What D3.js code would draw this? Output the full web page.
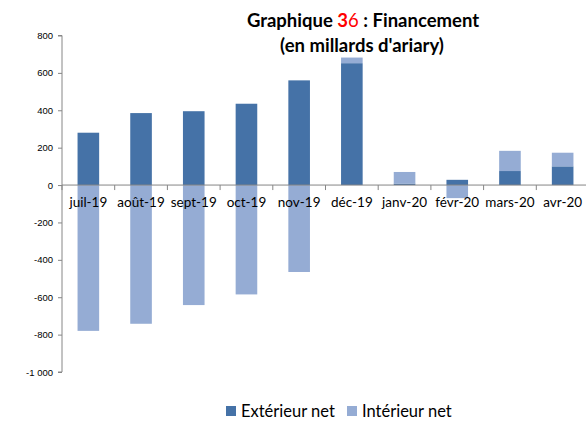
<!DOCTYPE html>
<html>
<head>
<meta charset="utf-8">
<script src="https://cdn.jsdelivr.net/npm/d3@7"></script>
<style>
  body { margin: 0; background: #fff; }
  svg { display: block; }
</style>
</head>
<body>
<div id="chart"></div>
<script>
// Financing by month, in billions of ariary
const months = ["juil-19","août-19","sept-19","oct-19","nov-19","déc-19","janv-20","févr-20","mars-20","avr-20"];
const exterieurNet = [280, 385, 395, 435, 560, 652, 8, 28, 75, 100];
const interieurNet = [-780, -742, -642, -585, -465, 30, 62, -70, 108, 73];
const yTicks = [800, 600, 400, 200, 0, -200, -400, -600, -800, -1000];
const seriesNames = ["Extérieur net", "Intérieur net"];
const colors = ["#4572a7", "#95acd4"];

const W = 586, H = 421;
const svg = d3.select("#chart").append("svg").attr("width", W).attr("height", H);

const x = d3.scaleBand().domain(months).range([62, 589]).paddingInner(0.59).paddingOuter(0.295);
const y = d3.scaleLinear().domain([-1000, 800]).range([372, 35.5]);

// stack: positives from 0 upward, negatives from 0 downward
const rows = months.map((m, i) => {
  const vals = [exterieurNet[i], interieurNet[i]];
  let pos = 0, neg = 0;
  return vals.map((v, k) => {
    let y0, y1;
    if (v >= 0) { y0 = pos; y1 = pos + v; pos = y1; }
    else { y0 = neg; y1 = neg + v; neg = y1; }
    return { m, k, y0, y1 };
  });
});

const fmt = v => v <= -1000 ? "-1 000" : String(v);

// y axis
const yAxis = d3.axisLeft(y).tickValues(yTicks).tickSize(4).tickFormat(fmt);
const gy = svg.append("g").attr("transform", "translate(62,0)").call(yAxis);
gy.select(".domain").attr("stroke", "#868686").attr("d", `M-4,${y(800)}H0V${y(-1000)}H-4`);
gy.selectAll(".tick line").attr("stroke", "#868686");
gy.selectAll(".tick text").attr("font-family", "Liberation Sans, Arial, sans-serif")
  .attr("font-size", 9.5).attr("fill", "#000").attr("x", -9);

// bars
svg.append("g").selectAll("g").data(rows).join("g")
  .selectAll("rect").data(d => d).join("rect")
  .attr("x", d => x(d.m))
  .attr("width", x.bandwidth())
  .attr("y", d => y(Math.max(d.y0, d.y1)))
  .attr("height", d => Math.abs(y(d.y0) - y(d.y1)))
  .attr("fill", d => colors[d.k]);

// category axis on the zero line
const xAxis = d3.axisBottom(x).tickSize(0).tickPadding(14);
const gx = svg.append("g").attr("transform", `translate(0,${y(0)})`).call(xAxis);
gx.select(".domain").attr("stroke", "#868686").attr("d", `M62,0H589`);
gx.selectAll(".tick text").attr("font-family", "Lato, Open Sans, sans-serif")
  .attr("font-size", 13.5).attr("fill", "#000").attr("dy", "0.6em");
// boundary ticks between categories
const step = x.step();
gx.selectAll("line.sep").data(d3.range(0, months.length + 1)).join("line")
  .attr("class", "sep")
  .attr("x1", i => 62 + i * step).attr("x2", i => 62 + i * step)
  .attr("y1", 0).attr("y2", 5).attr("stroke", "#868686");

// title
const title = svg.append("text").attr("x", 363).attr("y", 27)
  .attr("text-anchor", "middle").attr("font-family", "Lato, Open Sans, sans-serif")
  .attr("font-size", 18.5).attr("font-weight", "bold").attr("fill", "#000");
title.append("tspan").text("Graphique ");
title.append("tspan").attr("fill", "#ff0000").text("3");
title.append("tspan").attr("fill", "#ff0000").attr("font-weight", "normal").text("6");
title.append("tspan").text(" : Financement");
svg.append("text").attr("x", 362).attr("y", 52)
  .attr("text-anchor", "middle").attr("font-family", "Lato, Open Sans, sans-serif")
  .attr("font-size", 18.5).attr("font-weight", "bold").attr("fill", "#000")
  .text("(en millards d'ariary)");

// legend
const legendX = [226, 347];
const lg = svg.append("g").selectAll("g").data(seriesNames).join("g")
  .attr("transform", (d, i) => `translate(${legendX[i]},406)`);
lg.append("rect").attr("width", 10).attr("height", 10).attr("fill", (d, i) => colors[i]);
lg.append("text").attr("x", 15).attr("y", 10.5)
  .attr("font-family", "Lato, Open Sans, sans-serif").attr("font-size", 16.5).attr("fill", "#000")
  .text(d => d);
</script>
</body>
</html>
